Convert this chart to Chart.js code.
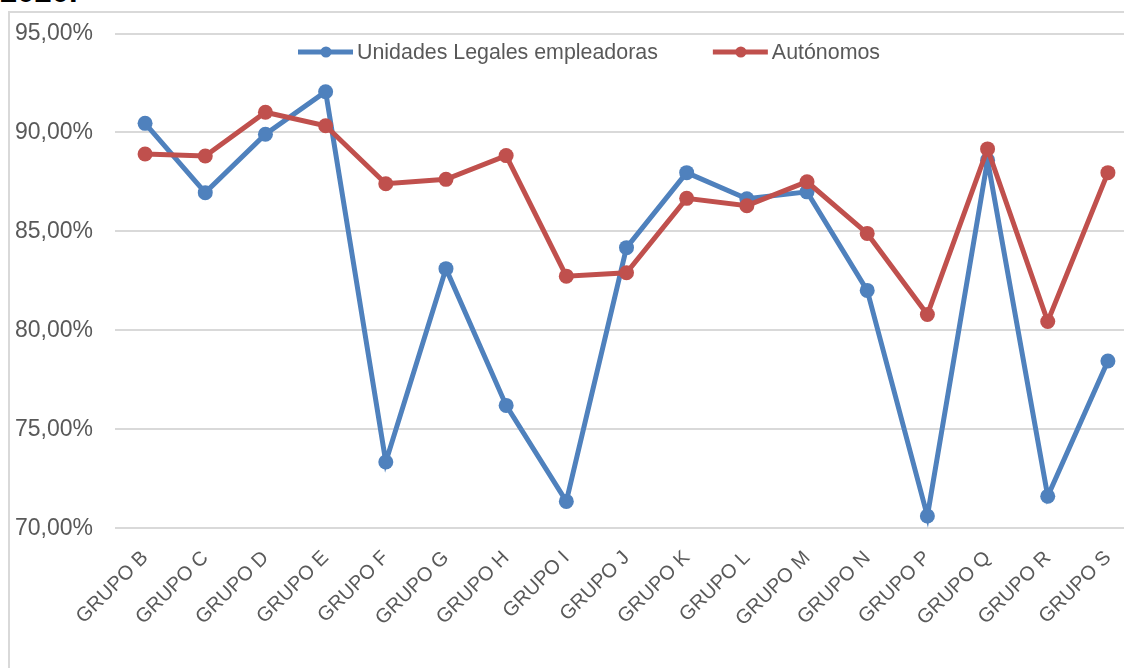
<!DOCTYPE html>
<html>
<head>
<meta charset="utf-8">
<script src="https://cdn.jsdelivr.net/npm/chart.js@4/dist/chart.umd.min.js"></script>
<style>
  html, body { margin: 0; padding: 0; background: #fff; overflow: hidden; width: 1124px; height: 668px; }
  #titulo { position: absolute; left: 0; top: -26px; line-height: 34px; font: bold 31px "Liberation Sans", Arial, sans-serif; color: #000; }
  #marco { position: absolute; left: 8px; top: 11px; right: -300px; bottom: -100px;
           border-left: 2px solid #d9d9d9; border-top: 2px solid #d9d9d9; }
  #caja { position: absolute; left: 0; top: 0; width: 1140px; height: 670px; }
</style>
</head>
<body>
<div id="titulo">2020.</div>
<div id="marco">
  <div id="caja"><canvas id="grafico"></canvas></div>
</div>
<script>
// categorias y series
const grupos = ['GRUPO B', 'GRUPO C', 'GRUPO D', 'GRUPO E', 'GRUPO F', 'GRUPO G', 'GRUPO H', 'GRUPO I',
  'GRUPO J', 'GRUPO K', 'GRUPO L', 'GRUPO M', 'GRUPO N', 'GRUPO P', 'GRUPO Q', 'GRUPO R', 'GRUPO S'];
const unidadesLegales = [90.46, 86.96, 89.91, 92.06, 73.35, 83.12, 76.21, 71.36, 84.18, 87.97,
  86.65, 87.0, 82.02, 70.62, 88.6, 71.62, 78.45];
const autonomos = [88.91, 88.81, 91.02, 90.34, 87.41, 87.63, 88.83, 82.74, 82.91, 86.67,
  86.3, 87.51, 84.9, 80.8, 89.17, 80.45, 87.97];
const ejeY = { min: 70, max: 95, paso: 5 };

const azul = '#4f81bd'
const rojo = '#c0504d'
const fuente = '"Liberation Sans", Arial, sans-serif'

// leyenda dibujada dentro del area del grafico (como en Excel)
const leyendaInterior = {
  id: 'leyendaInterior',
  afterDraw(chart) {
    const ctx = chart.ctx
    ctx.save()
    ctx.font = '21.4px ' + fuente
    ctx.textBaseline = 'middle'
    let x = 288 // inicio de la leyenda
    const y = 39
    chart.data.datasets.forEach((ds) => {
      ctx.strokeStyle = ds.borderColor
      ctx.lineWidth = 5
      ctx.beginPath()
      ctx.moveTo(x, y)
      ctx.lineTo(x + 55, y)
      ctx.stroke()
      ctx.fillStyle = ds.borderColor
      ctx.beginPath()
      ctx.arc(x + 28, y, 5.5, 0, Math.PI * 2)
      ctx.fill()
      ctx.fillStyle = '#595959'
      ctx.fillText(ds.label, x + 59, y + 1)
      x += 59 + ctx.measureText(ds.label).width + 55
    })
    ctx.restore()
  }
}

const ctx = document.getElementById('grafico').getContext('2d')
const chart = new Chart(ctx, {
  type: 'line',
  data: {
    labels: grupos,
    datasets: [{
      label: 'Unidades Legales empleadoras',
      data: unidadesLegales,
      borderColor: azul,
      backgroundColor: azul,
      borderWidth: 5,
      pointRadius: 7.5,
      pointBorderWidth: 0,
      order: 1
    }, {
      label: 'Autónomos',
      data: autonomos,
      borderColor: rojo,
      backgroundColor: rojo,
      borderWidth: 5,
      pointRadius: 7.5,
      pointBorderWidth: 0,
      order: 0
    }]
  },
  options: {
    responsive: true,
    maintainAspectRatio: false,
    animation: false,
    layout: { padding: { top: 20.5, left: 0, right: 12, bottom: 0 } },
    scales: {
      x: {
        offset: true,
        grid: { display: false, drawTicks: false },
        border: { display: false },
        ticks: {
          minRotation: 45,
          maxRotation: 45,
          autoSkip: false,
          padding: 18,
          color: '#595959',
          font: { family: fuente, size: 20 }
        },
        afterFit(s) { s.height = 154.7 }
      },
      y: {
        min: ejeY.min,
        max: ejeY.max,
        grid: { color: '#d9d9d9', lineWidth: 2, drawTicks: false },
        border: { display: false },
        ticks: {
          stepSize: ejeY.paso,
          padding: 22,
          color: '#595959',
          font: { family: fuente, size: 23 },
          callback: (v) => v.toFixed(2).replace('.', ',') + '%'
        },
        afterFit(s) { s.width = 105; s.paddingTop = 0 }
      }
    },
    plugins: {
      legend: { display: false },
      tooltip: { enabled: false }
    }
  },
  plugins: [leyendaInterior]
})
</script>
</body>
</html>
